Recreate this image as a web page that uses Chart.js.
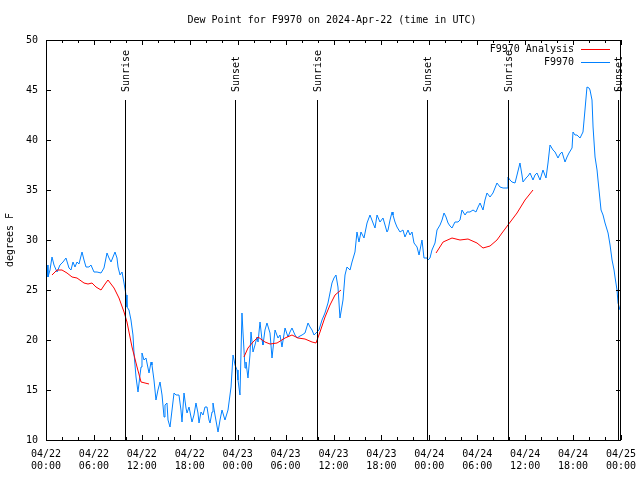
<!DOCTYPE html>
<html>
<head>
<meta charset="utf-8">
<script src="https://cdn.jsdelivr.net/npm/chart.js@4"></script>
<style>
  html, body { margin: 0; padding: 0; background: #fff; }
  canvas { display: block; }
</style>
</head>
<body>
<canvas id="dewpoint" width="640" height="480"></canvas>
<script>
// hours since 2024-04-22 00:00 UTC
const stationHours = [0, 0.13, 0.25, 0.5, 0.75, 1.0, 1.38, 1.75, 2.13, 2.5, 2.88, 3.13, 3.38, 3.63, 3.88, 4.13, 4.51, 4.76, 5.01, 5.38, 5.63, 6.01, 6.39, 6.89, 7.26, 7.64, 7.89, 8.14, 8.39, 8.64, 8.89, 9.02, 9.27, 9.52, 9.77, 10.02, 10.14, 10.39, 10.64, 10.89, 11.02, 11.27, 11.52, 11.77, 11.9, 12.02, 12.27, 12.52, 12.9, 13.15, 13.27, 13.52, 13.77, 14.02, 14.28, 14.53, 14.78, 14.9, 15.15, 15.28, 15.53, 15.78, 16.03, 16.28, 16.65, 16.9, 17.03, 17.28, 17.53, 17.66, 17.91, 18.28, 18.53, 18.78, 19.03, 19.16, 19.41, 19.66, 19.91, 20.16, 20.41, 20.54, 20.79, 20.91, 21.16, 21.54, 21.79, 22.04, 22.41, 22.79, 23.17, 23.42, 23.67, 23.92, 24.04, 24.29, 24.54, 24.67, 24.92, 25.04, 25.29, 25.54, 25.67, 25.92, 26.17, 26.42, 26.55, 26.8, 27.05, 27.17, 27.42, 27.67, 28.05, 28.3, 28.68, 29.05, 29.3, 29.55, 29.93, 30.3, 30.55, 30.8, 31.18, 31.43, 31.81, 32.06, 32.43, 32.81, 33.06, 33.31, 33.56, 33.93, 34.18, 34.56, 34.93, 35.31, 35.81, 36.06, 36.31, 36.56, 36.81, 37.19, 37.44, 37.69, 38.07, 38.32, 38.69, 38.94, 39.19, 39.44, 39.82, 40.2, 40.57, 40.95, 41.2, 41.45, 41.82, 42.2, 42.45, 42.7, 42.83, 43.08, 43.33, 43.45, 43.7, 43.95, 44.33, 44.7, 44.95, 45.33, 45.58, 45.83, 46.08, 46.46, 46.71, 47.08, 47.33, 47.71, 47.84, 48.08, 48.33, 48.71, 48.96, 49.34, 49.59, 49.84, 50.09, 50.34, 50.59, 50.84, 51.21, 51.59, 51.84, 52.09, 52.47, 52.72, 53.09, 53.47, 53.84, 54.1, 54.35, 54.72, 54.97, 55.22, 55.6, 55.97, 56.22, 56.47, 56.85, 57.23, 57.73, 57.85, 58.1, 58.35, 58.73, 58.98, 59.35, 59.6, 59.73, 60.11, 60.36, 60.61, 60.98, 61.23, 61.48, 61.86, 62.23, 62.61, 62.86, 63.11, 63.49, 63.74, 64.11, 64.36, 64.61, 64.99, 65.24, 65.49, 65.87, 65.99, 66.24, 66.49, 66.87, 67.24, 67.49, 67.74, 68.0, 68.12, 68.37, 68.5, 68.75, 69.0, 69.12, 69.5, 69.75, 70.0, 70.38, 70.63, 70.88, 71.13, 71.25, 71.5, 71.63, 71.88];
const stationValues = [27.2, 27.5, 26.3, 27.0, 28.3, 27.5, 26.8, 27.5, 27.8, 28.2, 27.2, 27.0, 27.8, 27.3, 27.8, 27.6, 28.8, 28.0, 27.3, 27.3, 27.5, 26.8, 26.8, 26.7, 27.2, 28.7, 28.2, 27.8, 28.3, 28.8, 28.2, 27.3, 26.5, 26.8, 25.7, 24.5, 23.3, 23.0, 22.0, 20.5, 18.7, 16.3, 14.8, 16.5, 17.3, 18.7, 18.0, 18.2, 16.7, 17.8, 17.5, 16.0, 14.0, 15.0, 15.8, 14.5, 12.3, 13.5, 13.7, 12.0, 11.3, 13.0, 14.7, 14.5, 14.5, 13.0, 11.8, 14.7, 13.2, 12.7, 13.3, 11.8, 12.5, 13.7, 12.7, 11.7, 12.8, 12.5, 13.3, 13.3, 12.0, 11.7, 12.8, 13.7, 12.5, 10.8, 12.0, 13.0, 12.0, 13.0, 15.3, 18.5, 17.5, 17.0, 16.0, 14.5, 22.7, 20.7, 17.2, 17.8, 16.2, 18.5, 20.8, 18.8, 19.5, 20.3, 19.8, 21.8, 20.0, 19.5, 21.0, 21.7, 20.7, 18.2, 21.0, 20.2, 20.5, 19.3, 21.2, 20.3, 20.8, 21.2, 20.5, 20.2, 20.4, 20.5, 20.7, 21.7, 21.3, 21.0, 20.5, 20.8, 21.0, 22.0, 22.7, 23.7, 25.7, 26.2, 26.5, 25.3, 22.2, 24.0, 26.5, 27.3, 27.0, 27.8, 28.8, 30.8, 29.8, 30.8, 30.2, 31.7, 32.5, 31.7, 31.2, 32.5, 31.8, 32.2, 31.5, 30.8, 31.0, 32.0, 32.8, 32.5, 31.8, 31.3, 30.8, 31.0, 30.3, 31.0, 30.5, 30.8, 29.7, 29.3, 28.5, 30.0, 28.2, 28.2, 28.0, 28.2, 29.0, 29.7, 31.0, 31.5, 32.0, 32.7, 32.3, 31.7, 31.4, 31.2, 31.8, 31.8, 32.0, 33.0, 32.5, 32.8, 32.8, 33.0, 32.8, 33.3, 33.7, 33.0, 34.0, 34.7, 34.3, 34.7, 35.2, 35.7, 35.3, 35.2, 35.2, 36.3, 36.0, 35.8, 35.7, 36.5, 37.7, 36.5, 35.8, 36.2, 36.4, 36.7, 36.0, 36.5, 36.7, 36.0, 37.0, 36.2, 37.7, 39.5, 39.0, 38.8, 38.2, 38.6, 38.8, 37.8, 38.3, 38.7, 39.2, 40.8, 40.5, 40.5, 40.2, 40.8, 43.0, 45.3, 45.2, 45.0, 44.0, 41.3, 38.3, 37.0, 36.0, 33.0, 32.5, 31.7, 30.7, 29.5, 28.0, 27.0, 26.3, 25.0, 23.7, 23.0];

// analysis runs, null marks a break between runs
const analysisHours = [0.75, 1.38, 2.0, 2.63, 3.26, 3.88, 4.76, 5.26, 5.76, 6.26, 6.89, 7.39, 7.76, 8.14, 8.52, 9.14, 9.77, 10.14, 10.77, 11.4, 11.9, 12.4, 12.9,
  18,
  24.79, 25.29, 25.92, 26.55, 27.42, 28.05, 28.93, 29.93, 30.8, 31.56, 32.43, 33.31, 33.81, 34.31, 34.94, 35.56, 36.19, 36.94,
  42,
  48.84, 49.72, 50.84, 51.84, 52.84, 53.97, 54.72, 55.6, 56.47, 57.1, 57.85, 58.98, 59.98, 60.98];
const analysisValues = [26.5, 27.0, 27.0, 26.7, 26.3, 26.2, 25.7, 25.6, 25.7, 25.3, 25.0, 25.6, 26.0, 25.6, 25.2, 24.2, 22.8, 21.8, 19.3, 17.3, 15.8, 15.7, 15.6,
  null,
  18.3, 19.2, 19.8, 20.3, 19.8, 19.6, 19.7, 20.2, 20.5, 20.2, 20.1, 19.8, 19.7, 20.8, 22.3, 23.5, 24.5, 25.0,
  null,
  28.7, 29.8, 30.2, 30.0, 30.1, 29.7, 29.2, 29.4, 30.0, 30.7, 31.5, 32.7, 34.0, 35.0];

const sunHours = [9.89, 23.67, 33.93, 47.71, 57.85, 71.63];
const sunLabels = ["Sunrise", "Sunset", "Sunrise", "Sunset", "Sunrise", "Sunset"];

const FONT = "10px 'DejaVu Sans Mono', monospace";
const RED = "rgb(255,0,0)";
const BLUE = "rgb(0,128,255)";

function pairs(xs, ys) {
  return xs.map((x, i) => ({ x: x, y: ys[i] }));
}

const gnuplotDecor = {
  id: "gnuplotDecor",
  afterDatasetsDraw(chart) {
    const ctx = chart.ctx;
    const area = chart.chartArea;
    const xs = chart.scales.x;
    const ys = chart.scales.y;
    ctx.save();
    ctx.strokeStyle = "#000";
    ctx.fillStyle = "#000";
    ctx.lineWidth = 1;
    ctx.font = FONT;

    // sunrise / sunset markers
    const lineTop = ys.getPixelForValue(44);
    sunHours.forEach((h, i) => {
      const px = Math.round(xs.getPixelForValue(h)) + 0.5;
      ctx.beginPath();
      ctx.moveTo(px, lineTop);
      ctx.lineTo(px, area.bottom);
      ctx.stroke();
      ctx.save();
      ctx.translate(px + 1, lineTop - 8);
      ctx.rotate(-Math.PI / 2);
      ctx.textAlign = "left";
      ctx.textBaseline = "middle";
      ctx.fillText(sunLabels[i], 0, 0);
      ctx.restore();
    });

    // inward tick marks on all four sides
    for (let h = 0; h <= 72; h += 2) {
      const px = Math.round(xs.getPixelForValue(h)) + 0.5;
      const len = h % 6 === 0 ? 5 : 3;
      ctx.beginPath();
      ctx.moveTo(px, area.bottom);
      ctx.lineTo(px, area.bottom - len);
      ctx.moveTo(px, area.top);
      ctx.lineTo(px, area.top + len);
      ctx.stroke();
    }
    for (let v = 10; v <= 50; v += 5) {
      const py = Math.round(ys.getPixelForValue(v)) + 0.5;
      ctx.beginPath();
      ctx.moveTo(area.left, py);
      ctx.lineTo(area.left + 5, py);
      ctx.moveTo(area.right, py);
      ctx.lineTo(area.right - 5, py);
      ctx.stroke();
    }

    // frame
    ctx.strokeRect(area.left + 0.5, area.top + 0.5, area.right - area.left - 1, area.bottom - area.top);

    // legend, top right inside the plot
    const entries = [["F9970 Analysis", RED], ["F9970", BLUE]];
    entries.forEach((e, i) => {
      const y = area.top + 9 + i * 13;
      ctx.fillStyle = "#000";
      ctx.textAlign = "right";
      ctx.textBaseline = "middle";
      ctx.fillText(e[0], area.right - 47, y);
      ctx.strokeStyle = e[1];
      ctx.beginPath();
      ctx.moveTo(area.right - 40, Math.round(y) + 0.5);
      ctx.lineTo(area.right - 11, Math.round(y) + 0.5);
      ctx.stroke();
    });

    // title and y axis label
    ctx.fillStyle = "#000";
    ctx.textAlign = "center";
    ctx.textBaseline = "middle";
    ctx.fillText("Dew Point for F9970 on 2024-Apr-22 (time in UTC)", 332, 20);
    ctx.save();
    ctx.translate(10, 240);
    ctx.rotate(-Math.PI / 2);
    ctx.fillText("degrees F", 0, 0);
    ctx.restore();
    ctx.restore();
  }
};

new Chart(document.getElementById("dewpoint"), {
  type: "line",
  data: {
    datasets: [
      {
        label: "F9970 Analysis",
        data: pairs(analysisHours, analysisValues),
        borderColor: RED,
        borderWidth: 1,
        pointRadius: 0,
        spanGaps: false,
        tension: 0,
      },
      {
        label: "F9970",
        data: pairs(stationHours, stationValues),
        borderColor: BLUE,
        borderWidth: 1,
        pointRadius: 0,
        tension: 0,
      },
    ],
  },
  options: {
    responsive: false,
    animation: false,
    events: [],
    layout: { padding: { left: 0, right: 19, top: 40, bottom: 0 } },
    plugins: {
      legend: { display: false },
      title: { display: false },
      tooltip: { enabled: false },
    },
    scales: {
      x: {
        type: "linear",
        min: 0,
        max: 72,
        grid: { display: false, drawTicks: false },
        border: { display: false },
        afterFit: (s) => { s.height = 40; s.paddingRight = 0; s.paddingLeft = 0; },
        ticks: {
          stepSize: 6,
          autoSkip: false,
          maxRotation: 0,
          padding: 8,
          color: "#000",
          font: { family: "'DejaVu Sans Mono', monospace", size: 10, lineHeight: 1.2 },
          callback: (v) => {
            const day = 22 + Math.floor(v / 24);
            const hr = v % 24;
            return ["04/" + day, (hr < 10 ? "0" : "") + hr + ":00"];
          },
        },
      },
      y: {
        min: 10,
        max: 50,
        grid: { display: false, drawTicks: false },
        border: { display: false },
        afterFit: (s) => { s.width = 46; s.paddingTop = 0; s.paddingBottom = 0; },
        ticks: {
          stepSize: 5,
          padding: 8,
          color: "#000",
          font: { family: "'DejaVu Sans Mono', monospace", size: 10 },
        },
      },
    },
  },
  plugins: [gnuplotDecor],
});
</script>
</body>
</html>
